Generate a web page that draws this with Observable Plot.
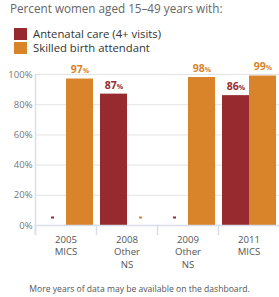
<!DOCTYPE html>
<html>
<head>
<meta charset="utf-8">
<script src="https://cdn.jsdelivr.net/npm/d3@7"></script>
<script src="https://cdn.jsdelivr.net/npm/@observablehq/plot@0.6"></script>
<style>
  html, body { margin: 0; padding: 0; background: #fff; }
  body { width: 279px; height: 297px; position: relative; overflow: hidden; font-family: "Open Sans", sans-serif; }
  #subtitle { position: absolute; left: 10px; top: 0; font-size: 11.7px; line-height: 16px; color: #666; white-space: nowrap; }
  .leg { position: absolute; left: 14px; font-size: 11.3px; line-height: 12px; color: #333; white-space: nowrap; }
  .leg span.sw { display: inline-block; width: 13px; height: 12px; vertical-align: top; margin-right: 6px; }
  #chart { position: absolute; left: 0; top: 58px; }
  #footer { position: absolute; left: 0; width: 279px; top: 283px; text-align: center; font-size: 8.6px; line-height: 12px; color: #555; white-space: nowrap; }
</style>
</head>
<body>
<div id="subtitle"></div>
<div id="legend"></div>
<div id="chart"></div>
<div id="footer"></div>
<script>
const subtitle = "Percent women aged 15–49 years with:";
const footer = "More years of data may be available on the dashboard.";
const years = ["2005\nMICS", "2008\nOther\nNS", "2009\nOther\nNS", "2011\nMICS"];
const seriesNames = ["Antenatal care (4+ visits)", "Skilled birth attendant"];
const seriesColors = ["#962a2f", "#d9842a"];
const antenatal = [null, 87, null, 86];
const skilled = [97, null, 98, 99];
const yTicks = [0, 20, 40, 60, 80, 100];

document.getElementById("subtitle").textContent = subtitle;
document.getElementById("footer").textContent = footer;
const legend = document.getElementById("legend");
seriesNames.forEach((n, i) => {
  const d = document.createElement("div");
  d.className = "leg";
  d.style.top = (28 + i * 14) + "px";
  d.innerHTML = `<span class="sw" style="background:${seriesColors[i]}"></span>`;
  d.appendChild(document.createTextNode(n));
  legend.appendChild(d);
});

const table = [];
years.forEach((y, i) => {
  table.push({year: y, series: seriesNames[0], value: antenatal[i]});
  table.push({year: y, series: seriesNames[1], value: skilled[i]});
});
const present = table.filter(d => d.value != null);
const missing = table.filter(d => d.value == null);

const axisColor = "#d8deec";
const plot = Plot.plot({
  width: 279,
  height: 220,
  marginTop: 16,
  marginBottom: 53,
  marginLeft: 34,
  marginRight: 0,
  style: {fontFamily: "Open Sans, sans-serif", background: "transparent"},
  fx: {domain: years, padding: 0, label: null},
  x: {domain: seriesNames, padding: 0, paddingOuter: 0.09, axis: null},
  y: {domain: [0, 100], axis: null},
  color: {domain: seriesNames, range: seriesColors},
  marks: [
    Plot.gridY(yTicks, {stroke: "#e3e3e3", strokeOpacity: 1}),
    Plot.axisY(yTicks, {anchor: "left", tickSize: 0, tickPadding: 3, tickFormat: d => d + "%", fontSize: 9.5, fill: "#777", label: null}),
    Plot.frame({anchor: "left", stroke: axisColor, strokeWidth: 1.5, insetTop: 151, insetBottom: -9}),
    Plot.frame({anchor: "left", facetAnchor: "left", stroke: axisColor, strokeWidth: 1.5, insetBottom: -8}),
    Plot.barY(present, {fx: "year", x: "series", y: "value", fill: "series"}),
    Plot.ruleY([0], {stroke: axisColor, strokeWidth: 1.5}),
    Plot.tickY(missing, {fx: "year", x: "series", y: () => 0, dy: -8, stroke: "series", strokeWidth: 2, insetLeft: 12, insetRight: 12}),
    Plot.text(present, {fx: "year", x: "series", y: "value", text: d => d.value + "%", fill: "series", dy: -9, fontSize: 10.5, fontWeight: "bold"}),
    Plot.axisFx({anchor: "bottom", tickSize: 0, tickPadding: 9, fontSize: 9.6, fill: "#555", lineHeight: 1.27, label: null})
  ]
});
document.getElementById("chart").appendChild(plot);

// smaller percent sign in value labels
d3.select(plot).selectAll("text").each(function() {
  const t = this.textContent;
  const m = /^(\d+)%$/.exec(t);
  if (m && d3.select(this.parentNode).attr("font-weight") === "bold") {
    const el = d3.select(this);
    el.text(null);
    el.append("tspan").text(m[1]);
    el.append("tspan").attr("font-size", "7px").text("%");
  }
});
</script>
</body>
</html>
